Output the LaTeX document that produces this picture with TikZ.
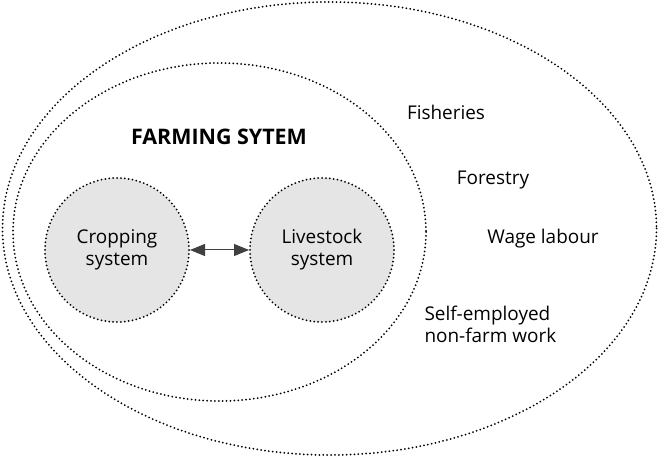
\documentclass[tikz,border=0pt]{standalone}
\usepackage{fontspec}
\setmainfont{Open Sans}
\usetikzlibrary{arrows.meta}

\begin{document}
\begin{tikzpicture}[x=1bp, y=-1bp,
    dots/.style={draw=black, line width=2bp, line cap=round, dash pattern=on 0pt off 3.9bp},
    sys/.style={dots, circle, fill=black!10, minimum size=144bp, inner sep=0pt, align=center},
    lbl/.style={font=\fontsize{19}{22}\selectfont, text=black},
    every node/.style={scale=1}]
    \useasboundingbox (0,0) rectangle (658,457);

    \draw[dots] (329.5,228.5) ellipse [x radius=327, y radius=226.5];
    \draw[dots] (219.5,232) ellipse [x radius=206.5, y radius=169];

    \node[lbl, font=\fontsize{21.5}{24}\selectfont\bfseries] (title) at (219,137) {FARMING SYTEM};

    \node[sys, lbl] (crop) at (117,250) {Cropping\\system};
    \node[sys, lbl] (live) at (322,250) {Livestock\\system};

    \draw[black!75, line width=1bp, {Triangle[length=15bp,width=12bp]}-{Triangle[length=15bp,width=12bp]}] (crop) -- (live);

    \node[lbl] (fish) at (446,112) {Fisheries};
    \node[lbl] (forest) at (493,180) {Forestry};
    \node[lbl] (wage) at (543,239) {Wage labour};
    \node[lbl, align=left, anchor=west] (self) at (421,324) {Self-employed\\non-farm work};
\end{tikzpicture}
\end{document}
